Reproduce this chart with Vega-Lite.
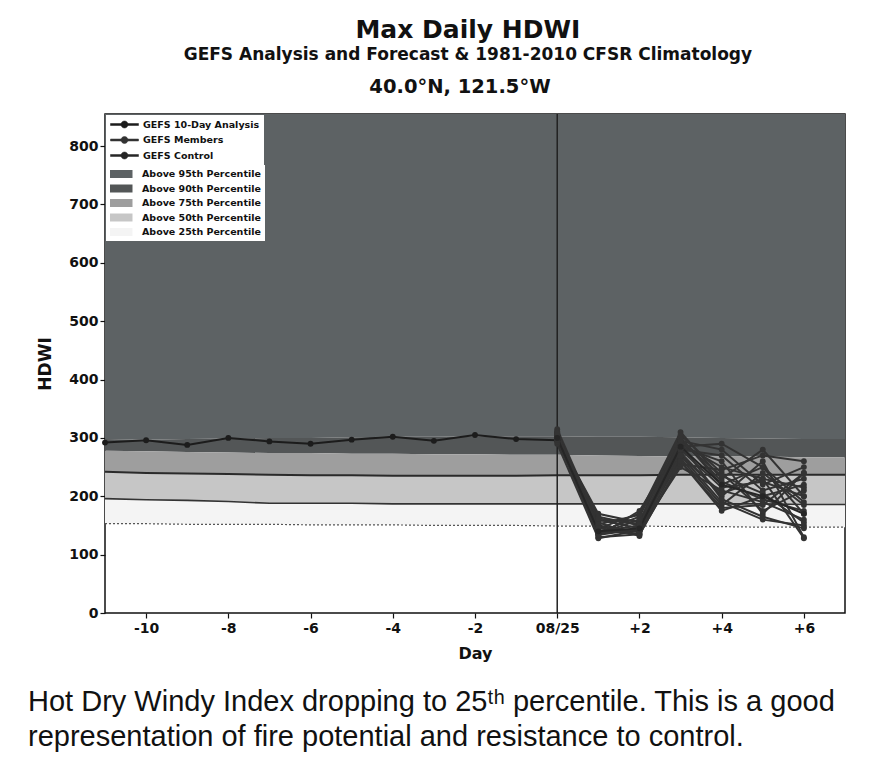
{
  "$schema": "https://vega.github.io/schema/vega-lite/v6.json",
  "padding": {"left": 28, "top": 18, "right": 0, "bottom": 0},
  "background": "white",
  "spacing": 22,
  "title": {
    "text": "Max Daily HDWI",
    "subtitle": "GEFS Analysis and Forecast & 1981-2010 CFSR Climatology",
    "font": "DejaVu Sans", "fontSize": 25, "fontWeight": "bold", "color": "#111",
    "subtitleFont": "DejaVu Sans", "subtitleFontSize": 17, "subtitleFontWeight": "bold", "subtitleColor": "#111",
    "subtitlePadding": 4, "offset": 13, "anchor": "middle", "dx": 29
  },
  "config": {
    "font": "DejaVu Sans",
    "view": {"stroke": "#111", "strokeWidth": 1.5},
    "axis": {
      "labelFont": "DejaVu Sans", "labelFontWeight": "bold", "labelFontSize": 14, "labelColor": "#111",
      "titleFont": "DejaVu Sans", "titleFontWeight": "bold", "titleFontSize": 17, "titleColor": "#111",
      "tickColor": "#111", "tickSize": 5, "tickWidth": 1.2, "domain": false, "grid": false
    },
    "legend": {
      "layout": {"top-left": {"direction": "vertical", "anchor": "start", "margin": 0}},
      "orient": "top-left", "offset": 1, "padding": 4, "fillColor": "#ffffff",
      "labelFont": "DejaVu Sans", "labelFontWeight": "bold", "labelFontSize": 9.5, "labelColor": "#111", "labelLimit": 125,
      "symbolSize": 100, "rowPadding": 4.5, "labelOffset": 22, "title": null
    }
  },
  "datasets": {
    "clim": [
      {"day": -11, "p25": 153, "p50": 196, "p75": 242, "p90": 278, "p95": 298},
      {"day": -10, "p25": 153, "p50": 194, "p75": 240, "p90": 277, "p95": 297},
      {"day": -9, "p25": 152, "p50": 193, "p75": 239, "p90": 276, "p95": 298},
      {"day": -8, "p25": 152, "p50": 191, "p75": 238, "p90": 275, "p95": 299},
      {"day": -7, "p25": 152, "p50": 188, "p75": 237, "p90": 274, "p95": 300},
      {"day": -6, "p25": 151, "p50": 188, "p75": 236, "p90": 274, "p95": 300},
      {"day": -5, "p25": 151, "p50": 188, "p75": 236, "p90": 273, "p95": 301},
      {"day": -4, "p25": 151, "p50": 187, "p75": 235, "p90": 273, "p95": 302},
      {"day": -3, "p25": 150, "p50": 187, "p75": 235, "p90": 272, "p95": 302},
      {"day": -2, "p25": 150, "p50": 187, "p75": 235, "p90": 272, "p95": 303},
      {"day": -1, "p25": 150, "p50": 187, "p75": 235, "p90": 271, "p95": 303},
      {"day": 0, "p25": 149, "p50": 187, "p75": 236, "p90": 271, "p95": 303},
      {"day": 1, "p25": 149, "p50": 187, "p75": 236, "p90": 270, "p95": 302},
      {"day": 2, "p25": 149, "p50": 187, "p75": 236, "p90": 269, "p95": 302},
      {"day": 3, "p25": 148, "p50": 187, "p75": 237, "p90": 268, "p95": 301},
      {"day": 4, "p25": 148, "p50": 187, "p75": 237, "p90": 268, "p95": 300},
      {"day": 5, "p25": 147, "p50": 187, "p75": 237, "p90": 268, "p95": 299},
      {"day": 6, "p25": 147, "p50": 186, "p75": 237, "p90": 267, "p95": 298},
      {"day": 7, "p25": 147, "p50": 186, "p75": 237, "p90": 267, "p95": 298}
    ],
    "series": [
      {"kind": "GEFS 10-Day Analysis", "member": "ana", "day": -11, "hdwi": 292},
      {"kind": "GEFS 10-Day Analysis", "member": "ana", "day": -10, "hdwi": 296},
      {"kind": "GEFS 10-Day Analysis", "member": "ana", "day": -9, "hdwi": 288},
      {"kind": "GEFS 10-Day Analysis", "member": "ana", "day": -8, "hdwi": 300},
      {"kind": "GEFS 10-Day Analysis", "member": "ana", "day": -7, "hdwi": 294},
      {"kind": "GEFS 10-Day Analysis", "member": "ana", "day": -6, "hdwi": 290},
      {"kind": "GEFS 10-Day Analysis", "member": "ana", "day": -5, "hdwi": 297},
      {"kind": "GEFS 10-Day Analysis", "member": "ana", "day": -4, "hdwi": 302},
      {"kind": "GEFS 10-Day Analysis", "member": "ana", "day": -3, "hdwi": 295},
      {"kind": "GEFS 10-Day Analysis", "member": "ana", "day": -2, "hdwi": 305},
      {"kind": "GEFS 10-Day Analysis", "member": "ana", "day": -1, "hdwi": 298},
      {"kind": "GEFS 10-Day Analysis", "member": "ana", "day": 0, "hdwi": 296},
      {"kind": "GEFS Members", "member": "m01", "day": 0, "hdwi": 300}, {"kind": "GEFS Members", "member": "m01", "day": 1, "hdwi": 130}, {"kind": "GEFS Members", "member": "m01", "day": 2, "hdwi": 135}, {"kind": "GEFS Members", "member": "m01", "day": 3, "hdwi": 290}, {"kind": "GEFS Members", "member": "m01", "day": 4, "hdwi": 250}, {"kind": "GEFS Members", "member": "m01", "day": 5, "hdwi": 230}, {"kind": "GEFS Members", "member": "m01", "day": 6, "hdwi": 128},
      {"kind": "GEFS Members", "member": "m02", "day": 0, "hdwi": 305}, {"kind": "GEFS Members", "member": "m02", "day": 1, "hdwi": 140}, {"kind": "GEFS Members", "member": "m02", "day": 2, "hdwi": 150}, {"kind": "GEFS Members", "member": "m02", "day": 3, "hdwi": 270}, {"kind": "GEFS Members", "member": "m02", "day": 4, "hdwi": 190}, {"kind": "GEFS Members", "member": "m02", "day": 5, "hdwi": 160}, {"kind": "GEFS Members", "member": "m02", "day": 6, "hdwi": 150},
      {"kind": "GEFS Members", "member": "m03", "day": 0, "hdwi": 295}, {"kind": "GEFS Members", "member": "m03", "day": 1, "hdwi": 150}, {"kind": "GEFS Members", "member": "m03", "day": 2, "hdwi": 138}, {"kind": "GEFS Members", "member": "m03", "day": 3, "hdwi": 300}, {"kind": "GEFS Members", "member": "m03", "day": 4, "hdwi": 220}, {"kind": "GEFS Members", "member": "m03", "day": 5, "hdwi": 250}, {"kind": "GEFS Members", "member": "m03", "day": 6, "hdwi": 170},
      {"kind": "GEFS Members", "member": "m04", "day": 0, "hdwi": 310}, {"kind": "GEFS Members", "member": "m04", "day": 1, "hdwi": 135}, {"kind": "GEFS Members", "member": "m04", "day": 2, "hdwi": 160}, {"kind": "GEFS Members", "member": "m04", "day": 3, "hdwi": 260}, {"kind": "GEFS Members", "member": "m04", "day": 4, "hdwi": 175}, {"kind": "GEFS Members", "member": "m04", "day": 5, "hdwi": 200}, {"kind": "GEFS Members", "member": "m04", "day": 6, "hdwi": 220},
      {"kind": "GEFS Members", "member": "m05", "day": 0, "hdwi": 298}, {"kind": "GEFS Members", "member": "m05", "day": 1, "hdwi": 160}, {"kind": "GEFS Members", "member": "m05", "day": 2, "hdwi": 145}, {"kind": "GEFS Members", "member": "m05", "day": 3, "hdwi": 285}, {"kind": "GEFS Members", "member": "m05", "day": 4, "hdwi": 260}, {"kind": "GEFS Members", "member": "m05", "day": 5, "hdwi": 170}, {"kind": "GEFS Members", "member": "m05", "day": 6, "hdwi": 240},
      {"kind": "GEFS Members", "member": "m06", "day": 0, "hdwi": 302}, {"kind": "GEFS Members", "member": "m06", "day": 1, "hdwi": 145}, {"kind": "GEFS Members", "member": "m06", "day": 2, "hdwi": 170}, {"kind": "GEFS Members", "member": "m06", "day": 3, "hdwi": 310}, {"kind": "GEFS Members", "member": "m06", "day": 4, "hdwi": 230}, {"kind": "GEFS Members", "member": "m06", "day": 5, "hdwi": 280}, {"kind": "GEFS Members", "member": "m06", "day": 6, "hdwi": 200},
      {"kind": "GEFS Members", "member": "m07", "day": 0, "hdwi": 290}, {"kind": "GEFS Members", "member": "m07", "day": 1, "hdwi": 128}, {"kind": "GEFS Members", "member": "m07", "day": 2, "hdwi": 142}, {"kind": "GEFS Members", "member": "m07", "day": 3, "hdwi": 250}, {"kind": "GEFS Members", "member": "m07", "day": 4, "hdwi": 210}, {"kind": "GEFS Members", "member": "m07", "day": 5, "hdwi": 190}, {"kind": "GEFS Members", "member": "m07", "day": 6, "hdwi": 160},
      {"kind": "GEFS Members", "member": "m08", "day": 0, "hdwi": 315}, {"kind": "GEFS Members", "member": "m08", "day": 1, "hdwi": 155}, {"kind": "GEFS Members", "member": "m08", "day": 2, "hdwi": 132}, {"kind": "GEFS Members", "member": "m08", "day": 3, "hdwi": 295}, {"kind": "GEFS Members", "member": "m08", "day": 4, "hdwi": 280}, {"kind": "GEFS Members", "member": "m08", "day": 5, "hdwi": 220}, {"kind": "GEFS Members", "member": "m08", "day": 6, "hdwi": 250},
      {"kind": "GEFS Members", "member": "m09", "day": 0, "hdwi": 300}, {"kind": "GEFS Members", "member": "m09", "day": 1, "hdwi": 170}, {"kind": "GEFS Members", "member": "m09", "day": 2, "hdwi": 155}, {"kind": "GEFS Members", "member": "m09", "day": 3, "hdwi": 275}, {"kind": "GEFS Members", "member": "m09", "day": 4, "hdwi": 200}, {"kind": "GEFS Members", "member": "m09", "day": 5, "hdwi": 260}, {"kind": "GEFS Members", "member": "m09", "day": 6, "hdwi": 130},
      {"kind": "GEFS Members", "member": "m10", "day": 0, "hdwi": 308}, {"kind": "GEFS Members", "member": "m10", "day": 1, "hdwi": 138}, {"kind": "GEFS Members", "member": "m10", "day": 2, "hdwi": 165}, {"kind": "GEFS Members", "member": "m10", "day": 3, "hdwi": 305}, {"kind": "GEFS Members", "member": "m10", "day": 4, "hdwi": 240}, {"kind": "GEFS Members", "member": "m10", "day": 5, "hdwi": 175}, {"kind": "GEFS Members", "member": "m10", "day": 6, "hdwi": 210},
      {"kind": "GEFS Members", "member": "m11", "day": 0, "hdwi": 296}, {"kind": "GEFS Members", "member": "m11", "day": 1, "hdwi": 148}, {"kind": "GEFS Members", "member": "m11", "day": 2, "hdwi": 140}, {"kind": "GEFS Members", "member": "m11", "day": 3, "hdwi": 265}, {"kind": "GEFS Members", "member": "m11", "day": 4, "hdwi": 185}, {"kind": "GEFS Members", "member": "m11", "day": 5, "hdwi": 240}, {"kind": "GEFS Members", "member": "m11", "day": 6, "hdwi": 185},
      {"kind": "GEFS Members", "member": "m12", "day": 0, "hdwi": 303}, {"kind": "GEFS Members", "member": "m12", "day": 1, "hdwi": 165}, {"kind": "GEFS Members", "member": "m12", "day": 2, "hdwi": 150}, {"kind": "GEFS Members", "member": "m12", "day": 3, "hdwi": 280}, {"kind": "GEFS Members", "member": "m12", "day": 4, "hdwi": 270}, {"kind": "GEFS Members", "member": "m12", "day": 5, "hdwi": 210}, {"kind": "GEFS Members", "member": "m12", "day": 6, "hdwi": 230},
      {"kind": "GEFS Members", "member": "m13", "day": 0, "hdwi": 299}, {"kind": "GEFS Members", "member": "m13", "day": 1, "hdwi": 132}, {"kind": "GEFS Members", "member": "m13", "day": 2, "hdwi": 175}, {"kind": "GEFS Members", "member": "m13", "day": 3, "hdwi": 290}, {"kind": "GEFS Members", "member": "m13", "day": 4, "hdwi": 195}, {"kind": "GEFS Members", "member": "m13", "day": 5, "hdwi": 165}, {"kind": "GEFS Members", "member": "m13", "day": 6, "hdwi": 145},
      {"kind": "GEFS Members", "member": "m14", "day": 0, "hdwi": 306}, {"kind": "GEFS Members", "member": "m14", "day": 1, "hdwi": 142}, {"kind": "GEFS Members", "member": "m14", "day": 2, "hdwi": 136}, {"kind": "GEFS Members", "member": "m14", "day": 3, "hdwi": 255}, {"kind": "GEFS Members", "member": "m14", "day": 4, "hdwi": 245}, {"kind": "GEFS Members", "member": "m14", "day": 5, "hdwi": 270}, {"kind": "GEFS Members", "member": "m14", "day": 6, "hdwi": 260},
      {"kind": "GEFS Members", "member": "m15", "day": 0, "hdwi": 294}, {"kind": "GEFS Members", "member": "m15", "day": 1, "hdwi": 158}, {"kind": "GEFS Members", "member": "m15", "day": 2, "hdwi": 158}, {"kind": "GEFS Members", "member": "m15", "day": 3, "hdwi": 300}, {"kind": "GEFS Members", "member": "m15", "day": 4, "hdwi": 225}, {"kind": "GEFS Members", "member": "m15", "day": 5, "hdwi": 195}, {"kind": "GEFS Members", "member": "m15", "day": 6, "hdwi": 175},
      {"kind": "GEFS Members", "member": "m16", "day": 0, "hdwi": 311}, {"kind": "GEFS Members", "member": "m16", "day": 1, "hdwi": 136}, {"kind": "GEFS Members", "member": "m16", "day": 2, "hdwi": 146}, {"kind": "GEFS Members", "member": "m16", "day": 3, "hdwi": 270}, {"kind": "GEFS Members", "member": "m16", "day": 4, "hdwi": 205}, {"kind": "GEFS Members", "member": "m16", "day": 5, "hdwi": 230}, {"kind": "GEFS Members", "member": "m16", "day": 6, "hdwi": 215},
      {"kind": "GEFS Members", "member": "m17", "day": 0, "hdwi": 297}, {"kind": "GEFS Members", "member": "m17", "day": 1, "hdwi": 152}, {"kind": "GEFS Members", "member": "m17", "day": 2, "hdwi": 168}, {"kind": "GEFS Members", "member": "m17", "day": 3, "hdwi": 285}, {"kind": "GEFS Members", "member": "m17", "day": 4, "hdwi": 290}, {"kind": "GEFS Members", "member": "m17", "day": 5, "hdwi": 250}, {"kind": "GEFS Members", "member": "m17", "day": 6, "hdwi": 190},
      {"kind": "GEFS Members", "member": "m18", "day": 0, "hdwi": 304}, {"kind": "GEFS Members", "member": "m18", "day": 1, "hdwi": 146}, {"kind": "GEFS Members", "member": "m18", "day": 2, "hdwi": 134}, {"kind": "GEFS Members", "member": "m18", "day": 3, "hdwi": 260}, {"kind": "GEFS Members", "member": "m18", "day": 4, "hdwi": 180}, {"kind": "GEFS Members", "member": "m18", "day": 5, "hdwi": 185}, {"kind": "GEFS Members", "member": "m18", "day": 6, "hdwi": 240},
      {"kind": "GEFS Members", "member": "m19", "day": 0, "hdwi": 300}, {"kind": "GEFS Members", "member": "m19", "day": 1, "hdwi": 162}, {"kind": "GEFS Members", "member": "m19", "day": 2, "hdwi": 152}, {"kind": "GEFS Members", "member": "m19", "day": 3, "hdwi": 295}, {"kind": "GEFS Members", "member": "m19", "day": 4, "hdwi": 235}, {"kind": "GEFS Members", "member": "m19", "day": 5, "hdwi": 205}, {"kind": "GEFS Members", "member": "m19", "day": 6, "hdwi": 155},
      {"kind": "GEFS Members", "member": "m20", "day": 0, "hdwi": 309}, {"kind": "GEFS Members", "member": "m20", "day": 1, "hdwi": 134}, {"kind": "GEFS Members", "member": "m20", "day": 2, "hdwi": 144}, {"kind": "GEFS Members", "member": "m20", "day": 3, "hdwi": 280}, {"kind": "GEFS Members", "member": "m20", "day": 4, "hdwi": 215}, {"kind": "GEFS Members", "member": "m20", "day": 5, "hdwi": 225}, {"kind": "GEFS Members", "member": "m20", "day": 6, "hdwi": 200},
      {"kind": "GEFS Control", "member": "ctl", "day": 0, "hdwi": 300}, {"kind": "GEFS Control", "member": "ctl", "day": 1, "hdwi": 140}, {"kind": "GEFS Control", "member": "ctl", "day": 2, "hdwi": 145}, {"kind": "GEFS Control", "member": "ctl", "day": 3, "hdwi": 285}, {"kind": "GEFS Control", "member": "ctl", "day": 4, "hdwi": 220}, {"kind": "GEFS Control", "member": "ctl", "day": 5, "hdwi": 200}, {"kind": "GEFS Control", "member": "ctl", "day": 6, "hdwi": 170}
    ],
    "caption": [
      {"line": 1, "text": "Hot Dry Windy Index dropping to 25ᵗʰ percentile. This is a good"},
      {"line": 2, "text": "representation of fire potential and resistance to control."}
    ]
  },
  "vconcat": [
    {
      "width": 740,
      "height": 499,
      "title": {
        "text": "40.0°N, 121.5°W",
        "font": "DejaVu Sans", "fontSize": 19.5, "fontWeight": "bold", "color": "#111",
        "offset": 16, "anchor": "middle", "frame": "group", "dx": -15
      },
      "data": {"name": "clim"},
      "layer": [
        {
          "data": {"name": "series"},
          "transform": [{"filter": "datum.day > 100"}],
          "mark": {"type": "line", "strokeWidth": 2, "point": {"filled": true, "size": 34}},
          "encoding": {
            "x": {"field": "day", "type": "quantitative", "scale": {"domain": [-11, 7], "nice": false, "zero": false},
              "axis": {"title": "Day", "values": [-10, -8, -6, -4, -2, 0, 2, 4, 6], "labelExpr": "datum.value == 0 ? '08/25' : (datum.value > 0 ? '+' + datum.value : '' + datum.value)", "titlePadding": 10, "titleFontSize": 16, "labelPadding": 3}},
            "y": {"field": "hdwi", "type": "quantitative", "scale": {"domain": [0, 855], "nice": false},
              "axis": {"title": "HDWI", "values": [0, 100, 200, 300, 400, 500, 600, 700, 800], "titlePadding": 14, "labelPadding": 2}},
            "detail": {"field": "member"},
            "color": {
              "field": "kind", "type": "nominal",
              "scale": {"domain": ["GEFS 10-Day Analysis", "GEFS Members", "GEFS Control"], "range": ["#1c1c1c", "#333333", "#262626"]},
              "legend": {"title": null, "symbolType": "M-1,-0.2H4.6V0.2H-1Z M2.5,0A0.7,0.7 0 1,1 1.1,0A0.7,0.7 0 1,1 2.5,0", "symbolStrokeWidth": 0.5, "symbolFillColor": "#222222", "symbolOpacity": 1}
            }
          }
        },
        {
          "mark": {"type": "area", "opacity": 1},
          "encoding": {
            "x": {"field": "day", "type": "quantitative"},
            "y": {"field": "p95", "type": "quantitative"},
            "y2": {"datum": 855},
            "fill": {
              "datum": "Above 95th Percentile", "type": "nominal",
              "scale": {
                "domain": ["Above 95th Percentile", "Above 90th Percentile", "Above 75th Percentile", "Above 50th Percentile", "Above 25th Percentile"],
                "range": ["#5d6264", "#535657", "#9e9e9e", "#c6c6c6", "#f4f4f4"]
              },
              "legend": {"title": null, "symbolType": "M-1,-0.8H3.5V0.8H-1Z", "symbolStrokeWidth": 0, "symbolOpacity": 1}
            }
          }
        },
        {
          "mark": {"type": "area", "opacity": 1},
          "encoding": {
            "x": {"field": "day", "type": "quantitative"},
            "y": {"field": "p90", "type": "quantitative"},
            "y2": {"field": "p95"},
            "fill": {"datum": "Above 90th Percentile", "type": "nominal"}
          }
        },
        {
          "mark": {"type": "area", "opacity": 1},
          "encoding": {
            "x": {"field": "day", "type": "quantitative"},
            "y": {"field": "p75", "type": "quantitative"},
            "y2": {"field": "p90"},
            "fill": {"datum": "Above 75th Percentile", "type": "nominal"}
          }
        },
        {
          "mark": {"type": "area", "opacity": 1},
          "encoding": {
            "x": {"field": "day", "type": "quantitative"},
            "y": {"field": "p50", "type": "quantitative"},
            "y2": {"field": "p75"},
            "fill": {"datum": "Above 50th Percentile", "type": "nominal"}
          }
        },
        {
          "mark": {"type": "area", "opacity": 1},
          "encoding": {
            "x": {"field": "day", "type": "quantitative"},
            "y": {"field": "p25", "type": "quantitative"},
            "y2": {"field": "p50"},
            "fill": {"datum": "Above 25th Percentile", "type": "nominal"}
          }
        },
        {
          "mark": {"type": "line", "color": "#2a2a2a", "strokeWidth": 2},
          "encoding": {"x": {"field": "day", "type": "quantitative"}, "y": {"field": "p75", "type": "quantitative"}}
        },
        {
          "mark": {"type": "line", "color": "#333333", "strokeWidth": 1.6},
          "encoding": {"x": {"field": "day", "type": "quantitative"}, "y": {"field": "p50", "type": "quantitative"}}
        },
        {
          "mark": {"type": "line", "color": "#555555", "strokeWidth": 1.2, "strokeDash": [2, 2]},
          "encoding": {"x": {"field": "day", "type": "quantitative"}, "y": {"field": "p25", "type": "quantitative"}}
        },
        {
          "data": {"values": [{"day": 0}]},
          "mark": {"type": "rule", "color": "#222222", "strokeWidth": 1.5},
          "encoding": {"x": {"field": "day", "type": "quantitative"}}
        },
        {
          "data": {"name": "series"},
          "mark": {"type": "line", "strokeWidth": 2, "opacity": 1, "point": {"filled": true, "size": 34, "opacity": 1}},
          "encoding": {
            "x": {"field": "day", "type": "quantitative"},
            "y": {"field": "hdwi", "type": "quantitative"},
            "detail": {"field": "member"},
            "color": {"field": "kind", "type": "nominal"}
          }
        }
      ]
    },
    {
      "width": 740,
      "height": 70,
      "view": {"stroke": null},
      "data": {"name": "caption"},
      "mark": {"type": "text", "align": "left", "baseline": "middle", "fontSize": 29, "font": "Liberation Sans", "color": "#111", "dx": -77},
      "encoding": {
        "y": {"field": "line", "type": "ordinal", "axis": null},
        "x": {"datum": 0, "type": "quantitative", "scale": {"domain": [0, 1]}, "axis": null},
        "text": {"field": "text"}
      }
    }
  ]
}
